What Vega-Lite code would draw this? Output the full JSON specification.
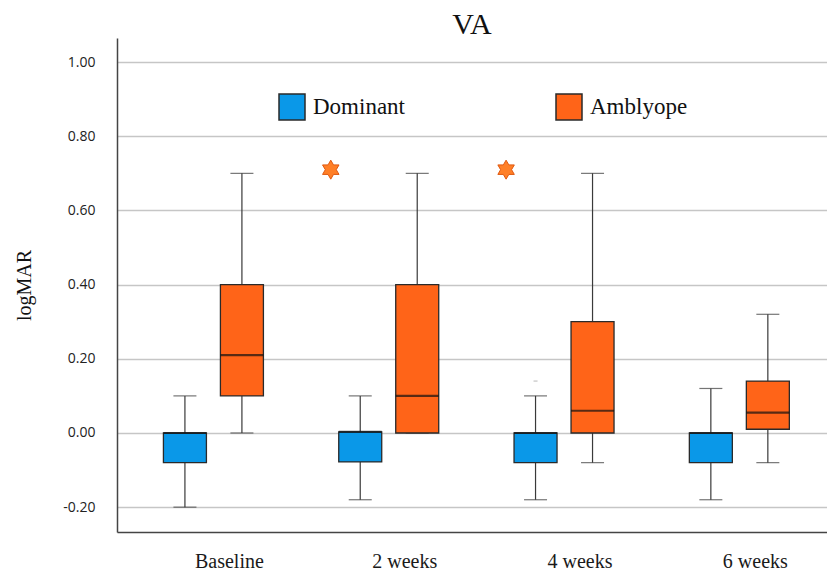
{
  "$schema": "https://vega.github.io/schema/vega-lite/v6.json",
  "width": 710,
  "height": 494,
  "autosize": {"type": "none"},
  "padding": {"left": 117, "top": 38, "right": 0, "bottom": 38},
  "background": "white",
  "title": {"text": "VA", "font": "Liberation Serif", "fontSize": 30, "fontWeight": "normal", "color": "#111111", "anchor": "middle", "offset": -2},
  "config": {"view": {"stroke": null}},
  "datasets": {
    "boxes": [
      {"time": "Baseline", "group": "Dominant", "lower": -0.20, "q1": -0.08, "median": 0.00, "q3": 0.00, "upper": 0.10},
      {"time": "Baseline", "group": "Amblyope", "lower": 0.00, "q1": 0.10, "median": 0.21, "q3": 0.40, "upper": 0.70},
      {"time": "2 weeks", "group": "Dominant", "lower": -0.18, "q1": -0.078, "median": 0.003, "q3": 0.003, "upper": 0.10},
      {"time": "2 weeks", "group": "Amblyope", "lower": 0.00, "q1": 0.00, "median": 0.10, "q3": 0.40, "upper": 0.70},
      {"time": "4 weeks", "group": "Dominant", "lower": -0.18, "q1": -0.08, "median": 0.00, "q3": 0.00, "upper": 0.10},
      {"time": "4 weeks", "group": "Amblyope", "lower": -0.08, "q1": 0.00, "median": 0.06, "q3": 0.30, "upper": 0.70},
      {"time": "6 weeks", "group": "Dominant", "lower": -0.18, "q1": -0.08, "median": 0.00, "q3": 0.00, "upper": 0.12},
      {"time": "6 weeks", "group": "Amblyope", "lower": -0.08, "q1": 0.01, "median": 0.055, "q3": 0.14, "upper": 0.32}
    ],
    "stars": [
      {"time": "2 weeks", "value": 0.71},
      {"time": "4 weeks", "value": 0.71}
    ],
    "outliers": [
      {"time": "4 weeks", "group": "Dominant", "value": 0.14}
    ]
  },
  "encoding": {
    "x": {
      "field": "time", "type": "nominal",
      "scale": {"domain": ["Baseline", "2 weeks", "4 weeks", "6 weeks"], "paddingInner": 0, "paddingOuter": 0.025, "align": 1},
      "axis": {"title": null, "labelAngle": 0, "ticks": false, "grid": false, "domain": true, "domainColor": "#444444", "domainWidth": 1.5, "labelFont": "Liberation Serif", "labelFontSize": 20, "labelColor": "#1a1a1a", "labelPadding": 19, "labelOffset": 16}
    }
  },
  "layer": [
    {
      "data": {"name": "boxes"},
      "mark": {"type": "rule", "color": "#3a3a3a", "strokeWidth": 1.2},
      "encoding": {
        "xOffset": {"field": "group", "type": "nominal", "scale": {"domain": ["Dominant", "Amblyope"], "paddingInner": 0, "paddingOuter": 0.538}},
        "y": {
          "field": "lower", "type": "quantitative",
          "scale": {"domain": [-0.267, 1.065], "nice": false, "zero": false},
          "axis": {
            "values": [-0.2, 0, 0.2, 0.4, 0.6, 0.8, 1.0],
            "labelExpr": "datum.value < 0 ? '-' + format(-datum.value, '.2f') : format(datum.value, '.2f')",
            "title": "logMAR", "titleFont": "Liberation Serif", "titleFontSize": 20, "titleFontWeight": "normal", "titleColor": "#111111", "titlePadding": 28,
            "labelFont": "Open Sans", "labelFontSize": 14, "labelColor": "#222222", "labelPadding": 22,
            "ticks": false, "tickSize": 0,
            "grid": true, "gridColor": "#c6c6c6", "gridWidth": 1.5,
            "domain": true, "domainColor": "#444444", "domainWidth": 1.5
          }
        },
        "y2": {"field": "upper"}
      }
    },
    {
      "data": {"name": "boxes"},
      "mark": {"type": "tick", "color": "#3a3a3a", "thickness": 1.2, "size": 23},
      "encoding": {
        "xOffset": {"field": "group", "type": "nominal"},
        "y": {"field": "lower", "type": "quantitative"}
      }
    },
    {
      "data": {"name": "boxes"},
      "mark": {"type": "tick", "color": "#3a3a3a", "thickness": 1.2, "size": 23},
      "encoding": {
        "xOffset": {"field": "group", "type": "nominal"},
        "y": {"field": "upper", "type": "quantitative"}
      }
    },
    {
      "data": {"name": "boxes"},
      "mark": {"type": "bar", "width": 43, "stroke": "#2a2a2a", "strokeWidth": 1.3, "opacity": 1},
      "encoding": {
        "xOffset": {"field": "group", "type": "nominal"},
        "y": {"field": "q1", "type": "quantitative"},
        "y2": {"field": "q3"},
        "color": {
          "field": "group", "type": "nominal",
          "scale": {"domain": ["Dominant", "Amblyope"], "range": ["#0A98E8", "#FF6418"]},
          "legend": {
            "orient": "none", "legendX": 161, "legendY": 55, "direction": "horizontal", "title": null,
            "symbolType": "square", "symbolSize": 676, "symbolStrokeWidth": 1.5, "symbolOpacity": 1,
            "labelFont": "Liberation Serif", "labelFontSize": 23, "labelColor": "#111111", "labelOffset": 7, "labelLimit": 300,
            "columnPadding": 148, "padding": 0,
            "encode": {
              "symbols": {
                "fill": {"signal": "datum.value === 'Dominant' ? '#1470D0' : '#FF8228'"},
                "stroke": {"signal": "datum.value === 'Dominant' ? '#0F5AAA' : '#D2601A'"},
                "update": {
                  "fill": {"signal": "datum.value === 'Dominant' ? '#1470D0' : '#FF8228'"},
                  "stroke": {"signal": "datum.value === 'Dominant' ? '#0F5AAA' : '#D2601A'"}
                }
              }
            }
          }
        }
      }
    },
    {
      "data": {"name": "boxes"},
      "mark": {"type": "tick", "color": "#111111", "thickness": 2.2, "size": 43},
      "encoding": {
        "xOffset": {"field": "group", "type": "nominal"},
        "y": {"field": "median", "type": "quantitative"}
      }
    },
    {
      "data": {"name": "outliers"},
      "mark": {"type": "tick", "color": "#999999", "thickness": 1, "size": 4},
      "encoding": {
        "xOffset": {"field": "group", "type": "nominal"},
        "y": {"field": "value", "type": "quantitative"}
      }
    },
    {
      "data": {"name": "stars"},
      "mark": {
        "type": "point", "filled": true, "fill": "#FF7F27", "stroke": "#E0580F", "strokeWidth": 1, "opacity": 1, "size": 361,
        "shape": "M-6.1,-1 L-5.811,-0.5 L-5.234,-0.5 L-5.523,0 L-5.234,0.5 L-5.811,0.5 L-6.1,1 L-6.389,0.5 L-6.966,0.5 L-6.677,0 L-6.966,-0.5 L-6.389,-0.5 Z"
      },
      "encoding": {
        "y": {"field": "value", "type": "quantitative"}
      }
    }
  ]
}
